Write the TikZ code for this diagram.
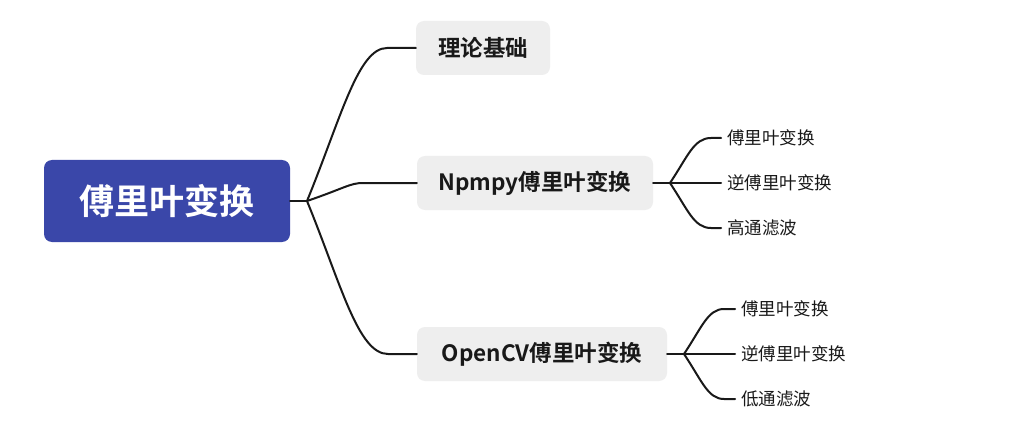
\documentclass[tikz,border=0pt]{standalone}
\usepackage{fontspec}
\setmainfont{Noto Sans CJK SC}[BoldFont={Noto Sans CJK SC Bold}]
\begin{document}
\begin{tikzpicture}[x=1pt,y=-1pt,
  link/.style={draw=black!90, line width=2pt, line cap=round},
  rootbox/.style={fill=rootblue, rounded corners=8pt, minimum width=246pt, minimum height=82pt, text=white, font=\fontsize{35}{38}\selectfont\bfseries, inner sep=0pt},
  midbox/.style={fill=boxgray, rounded corners=8pt, minimum height=54pt, font=\fontsize{22.5}{25}\selectfont\bfseries, inner sep=0pt, text=black!90},
  leaf/.style={anchor=west, font=\fontsize{17.5}{20}\selectfont, inner sep=0pt, text=black!90}]
\definecolor{rootblue}{HTML}{3A47A9}
\definecolor{boxgray}{HTML}{EEEEEE}
\useasboundingbox (0,0) rectangle (1031,433);
\fill[white] (0,0) rectangle (1031,433);
% nodes
\node[rootbox] (root) at (167,201) {傅里叶变换};
\node[midbox, minimum width=134pt] (c1) at (483,48) {理论基础};
\node[midbox, minimum width=236pt] (c2) at (535,183) {Npmpy傅里叶变换};
\node[midbox, minimum width=250pt] (c3) at (542,354) {OpenCV傅里叶变换};
\node[leaf] (l1) at (727,138) {傅里叶变换};
\node[leaf] (l2) at (727,183) {逆傅里叶变换};
\node[leaf] (l3) at (727,228) {高通滤波};
\node[leaf] (m1) at (741,309) {傅里叶变换};
\node[leaf] (m2) at (741,354) {逆傅里叶变换};
\node[leaf] (m3) at (741,399) {低通滤波};
% junctions
\coordinate (j0) at (307,201);
\coordinate (j1) at (670,183);
\coordinate (j2) at (684,354);
% main connectors
\draw[link] (root.east) -- (j0);
\draw[link] (j0) .. controls (341,118) and (358,48) .. (387,48) -- (c1.west);
\draw[link] (j0) .. controls (345,188) and (350,183) .. (363,183) -- (c2.west);
\draw[link] (j0) .. controls (341,284) and (358,354) .. (388,354) -- (c3.west);
% leaf connectors, Npmpy
\draw[link] (c2.east) -- (j1);
\draw[link] (j1) .. controls (688,156) and (694,138) .. (711,138) -- ([xshift=-6pt]l1.west);
\draw[link] (j1) -- ([xshift=-6pt]l2.west);
\draw[link] (j1) .. controls (688,210) and (694,228) .. (711,228) -- ([xshift=-6pt]l3.west);
% leaf connectors, OpenCV
\draw[link] (c3.east) -- (j2);
\draw[link] (j2) .. controls (702,327) and (708,309) .. (724,309) -- ([xshift=-6pt]m1.west);
\draw[link] (j2) -- ([xshift=-6pt]m2.west);
\draw[link] (j2) .. controls (702,381) and (708,399) .. (724,399) -- ([xshift=-6pt]m3.west);
\end{tikzpicture}
\end{document}
